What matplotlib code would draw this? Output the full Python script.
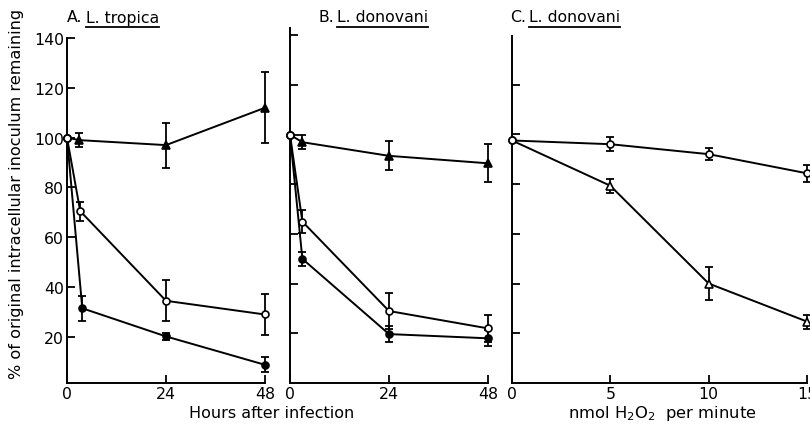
import numpy as np
import matplotlib
matplotlib.use("Agg")
import matplotlib.pyplot as plt
from matplotlib.lines import Line2D

plt.rcParams['font.family'] = ['DejaVu Sans']

# ---------------- data ----------------
# Panel A: L. tropica, hours after infection
a_tri_x = [0, 3, 24, 48]
a_tri_y = [100, 99, 97, 112]
a_tri_e = [0, 2.8, 9, 14.3]
a_oc_x = [0, 3.2, 24, 48]
a_oc_y = [100, 70.5, 34.5, 29]
a_oc_e = [0, 3.8, 8.2, 8.1]
a_fc_x = [0, 3.7, 24, 48]
a_fc_y = [100, 31.5, 20.2, 8.8]
a_fc_e = [0, 5, 1.5, 3]

# Panel B: L. donovani, hours after infection
b_tri_x = [0, 3, 24, 48]
b_tri_y = [100, 97, 91.5, 88.5]
b_tri_e = [0, 2.8, 5.8, 7.7]
b_oc_x = [0, 3, 24, 48]
b_oc_y = [100, 65, 29, 22]
b_oc_e = [0, 4.7, 7.3, 5.5]
b_fc_x = [0, 3, 24, 48]
b_fc_y = [100, 50, 19.7, 18]
b_fc_e = [0, 2.8, 3.2, 3.2]

# Panel C: L. donovani, nmol H2O2 per minute
c_x = [0, 5, 10, 15]
c_oc_y = [97.5, 96, 92, 84.3]
c_oc_e = [0, 2.8, 2.5, 3.3]
c_ot_y = [97.5, 79.3, 40, 24.7]
c_ot_e = [0, 2.9, 6.5, 2.8]

a_xticks = [0, 24, 48]
b_xticks = [0, 24, 48]
c_xticks = [0, 5, 10, 15]
yticks = [20, 40, 60, 80, 100, 120, 140]

# ---------------- figure ----------------
W, H = 810, 435
fig = plt.figure(figsize=(W / 100, H / 100), dpi=100)

def px_axes(left, right, top, bottom):
    return fig.add_axes([left / W, 1 - bottom / H, (right - left) / W, (bottom - top) / H])

axA = px_axes(67, 265, 39, 384)
axB = px_axes(290, 488, 29, 384)
axC = px_axes(512, 807, 37, 384)

LW = 1.4
MS = 5.0

def series(ax, x, y, e, marker, filled):
    fc = 'black' if filled else 'white'
    ms = 6.3 if marker == '^' else MS
    ax.plot(x, y, color='black', lw=LW, zorder=2, clip_on=False)
    ax.errorbar(x[1:], y[1:], yerr=e[1:], fmt='none', ecolor='black',
                elinewidth=1.3, capsize=2.6, capthick=1.3, zorder=3, clip_on=False)
    ax.plot(x[1:], y[1:], linestyle='none', marker=marker, ms=ms, mfc=fc,
            mec='black', mew=1.2, zorder=4, clip_on=False)
    ax.plot(x[:1], y[:1], linestyle='none', marker='o', ms=MS, mfc='white',
            mec='black', mew=1.2, zorder=5, clip_on=False)

series(axA, a_tri_x, a_tri_y, a_tri_e, '^', True)
series(axA, a_oc_x, a_oc_y, a_oc_e, 'o', False)
series(axA, a_fc_x, a_fc_y, a_fc_e, 'o', True)

series(axB, b_tri_x, b_tri_y, b_tri_e, '^', True)
series(axB, b_oc_x, b_oc_y, b_oc_e, 'o', False)
series(axB, b_fc_x, b_fc_y, b_fc_e, 'o', True)

series(axC, c_x, c_oc_y, c_oc_e, 'o', False)
series(axC, c_x, c_ot_y, c_ot_e, '^', False)

for ax in (axA, axB, axC):
    ax.spines['top'].set_visible(False)
    ax.spines['right'].set_visible(False)
    ax.spines['left'].set_linewidth(1.4)
    ax.spines['bottom'].set_linewidth(1.4)
    ax.tick_params(direction='in', length=6, width=1.3, labelsize=11.3)
    ax.tick_params(axis='x', pad=2)
    ax.set_yticks(yticks)
    ax.patch.set_alpha(0)

axA.set_xlim(0, 48); axA.set_ylim(1.5, 140)
axB.set_xlim(0, 48); axB.set_ylim(0, 143)
axC.set_xlim(0, 15); axC.set_ylim(0, 139.5)

axA.set_xticks(a_xticks)
axB.set_xticks(b_xticks)
axC.set_xticks(c_xticks)
axB.set_yticklabels([])
axC.set_yticklabels([])
axA.tick_params(axis='y', pad=2)

# axis labels
fig.text(17 / W, 1 - 194 / H, '% of original intracellular inoculum remaining',
         rotation=90, ha='center', va='center', fontsize=11.6)
fig.text(272 / W, 1 - 414 / H, 'Hours after infection', ha='center', va='center', fontsize=11.5)
fig.text(662 / W, 1 - 414 / H, r'nmol H$_2$O$_2$  per minute', ha='center', va='center', fontsize=11.8)

# panel titles with underlined species names
titles = [(67, 'A.', 'L. tropica'), (318, 'B.', 'L. donovani'), (510, 'C.', 'L. donovani')]
fig.canvas.draw()
renderer = fig.canvas.get_renderer()
for x0, lab, sp in titles:
    t1 = fig.text(x0 / W, 1 - 18 / H, lab, ha='left', va='center', fontsize=11.3)
    bb1 = t1.get_window_extent(renderer)
    t2 = fig.text((bb1.x1 + 3) / W, 1 - 18 / H, sp, ha='left', va='center', fontsize=11.3)
    bb2 = t2.get_window_extent(renderer)
    fig.add_artist(Line2D([bb2.x0 / W, bb2.x1 / W], [(bb2.y0 - 2) / H, (bb2.y0 - 2) / H],
                          color='black', lw=1.3))

fig.savefig('out.png', dpi=100)
